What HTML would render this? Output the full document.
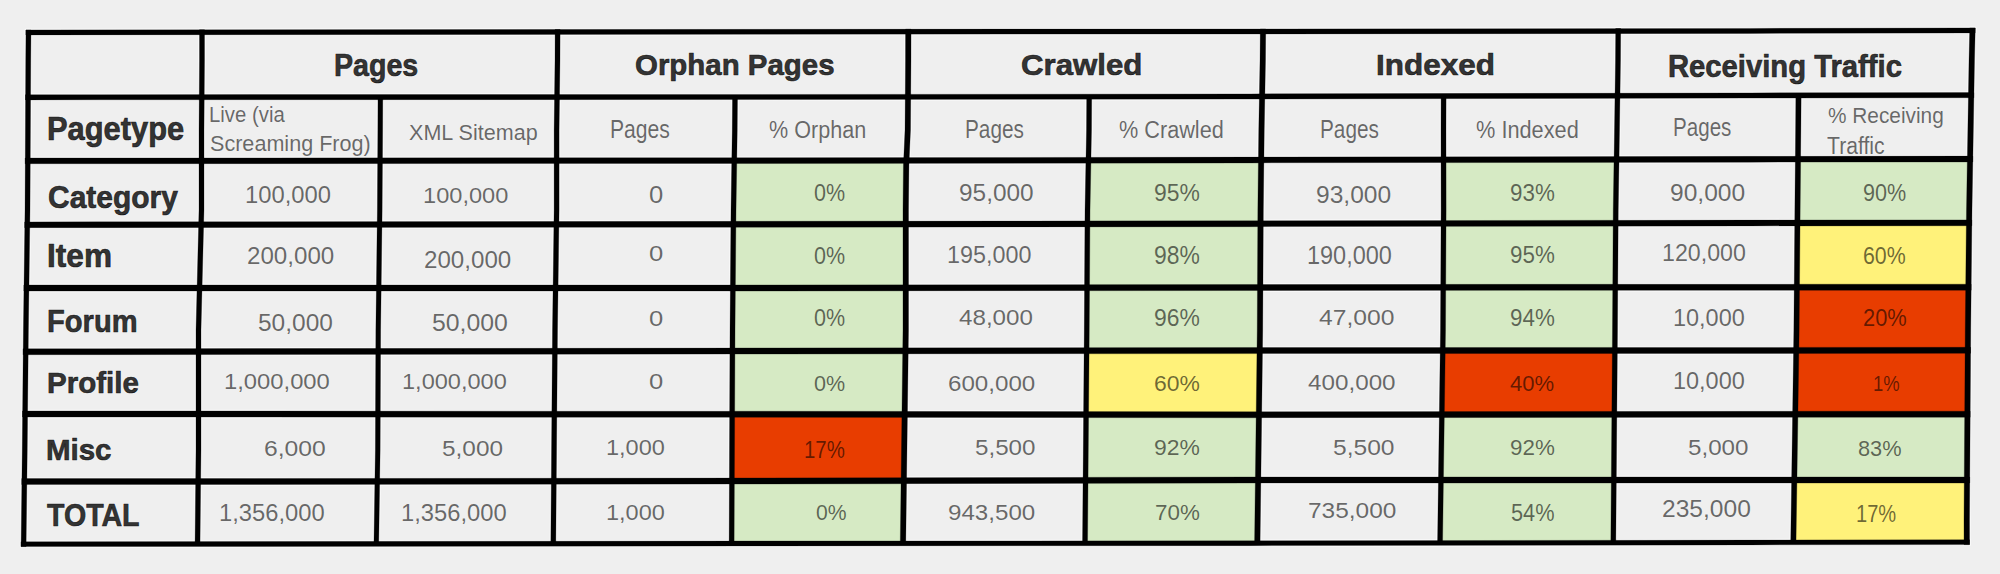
<!DOCTYPE html>
<html><head><meta charset="utf-8"><style>
html,body{margin:0;padding:0;background:#efefef;width:2000px;height:574px;overflow:hidden}
svg{position:absolute;left:0;top:0}
.t{position:absolute;font-family:"Liberation Sans",sans-serif;white-space:pre;transform-origin:0 0}
</style></head><body>
<svg width="2000" height="574" viewBox="0 0 2000 574">
<g fill="none" stroke="#fff" stroke-opacity="0.8" stroke-width="2.4" stroke-linejoin="round">
<polygon points="25.88,29.97 40.00,29.90 750.00,29.25 1250.00,29.00 1750.00,28.40 1975.14,27.91 1975.14,32.91 1750.00,33.40 1250.00,34.00 750.00,34.25 40.00,34.90 25.88,34.97"/>
<polygon points="25.46,94.70 100.00,94.65 750.00,94.40 1250.00,93.90 1750.00,92.90 1973.86,92.61 1973.86,97.81 1750.00,98.10 1250.00,99.10 750.00,99.60 100.00,99.85 25.46,99.90"/>
<polygon points="25.15,158.00 100.00,158.00 750.00,157.70 1250.00,157.10 1750.00,156.35 1972.80,156.11 1972.80,161.91 1750.00,162.15 1250.00,162.90 750.00,163.50 100.00,163.80 25.15,163.80"/>
<polygon points="24.70,221.90 100.00,221.85 750.00,221.35 1250.00,220.85 1750.00,220.10 1971.82,219.91 1971.82,225.71 1750.00,225.90 1250.00,226.65 750.00,227.15 100.00,227.65 24.70,227.70"/>
<polygon points="23.86,285.00 100.00,285.00 750.00,285.00 1250.00,284.50 1750.00,284.25 1971.15,284.20 1971.15,290.20 1750.00,290.25 1250.00,290.50 750.00,291.00 100.00,291.00 23.86,291.00"/>
<polygon points="23.09,348.80 100.00,348.75 750.00,348.00 1250.00,347.60 1750.00,347.40 1970.57,347.30 1970.57,353.30 1750.00,353.40 1250.00,353.60 750.00,354.00 100.00,354.75 23.09,354.80"/>
<polygon points="22.49,411.00 100.00,411.00 750.00,411.25 1250.00,411.75 1750.00,411.25 1970.15,411.20 1970.15,417.20 1750.00,417.25 1250.00,417.75 750.00,417.25 100.00,417.00 22.49,417.00"/>
<polygon points="21.77,478.60 100.00,478.60 750.00,478.00 1250.00,477.00 1750.00,477.00 1969.71,477.00 1969.71,483.00 1750.00,483.00 1250.00,483.00 750.00,484.00 100.00,484.60 21.77,484.60"/>
<polygon points="21.02,541.80 40.00,541.80 750.00,541.10 1250.00,540.85 1750.00,540.10 1969.49,539.81 1969.49,544.61 1750.00,544.90 1250.00,545.65 750.00,545.90 40.00,546.60 21.02,546.60"/>
<polygon points="26.00,29.96 26.00,30.00 25.75,60.00 25.00,210.00 23.40,330.00 22.25,450.00 21.10,546.00 21.10,546.60 26.10,546.60 26.10,546.00 27.25,450.00 28.40,330.00 30.00,210.00 30.75,60.00 31.00,30.00 31.00,29.96"/>
<polygon points="199.50,29.75 199.50,30.00 199.50,60.00 199.00,130.00 199.00,210.00 196.00,330.00 196.00,450.00 195.02,544.04 200.02,544.04 201.00,450.00 201.00,330.00 204.00,210.00 204.00,130.00 204.50,60.00 204.50,30.00 204.50,29.75"/>
<polygon points="377.99,97.14 377.85,130.00 377.35,210.00 375.85,330.00 375.35,450.00 373.93,543.87 378.73,543.87 380.15,450.00 380.65,330.00 382.15,210.00 382.65,130.00 382.79,97.14"/>
<polygon points="555.10,29.43 555.10,30.00 555.00,60.00 554.10,130.00 554.10,210.00 552.50,330.00 550.82,543.69 555.82,543.69 557.50,330.00 559.10,210.00 559.10,130.00 560.00,60.00 560.10,30.00 560.10,29.43"/>
<polygon points="732.49,97.01 732.25,130.00 731.00,210.00 730.00,330.00 729.11,543.52 734.11,543.52 735.00,330.00 736.00,210.00 737.25,130.00 737.49,97.01"/>
<polygon points="905.55,29.17 905.55,30.00 905.50,60.00 905.00,130.00 903.45,165.00 903.00,210.00 903.00,330.00 900.28,543.42 905.78,543.42 908.50,330.00 908.50,210.00 908.95,165.00 910.50,130.00 911.00,60.00 911.05,30.00 911.05,29.17"/>
<polygon points="1086.69,96.66 1086.50,130.00 1085.00,210.00 1084.25,330.00 1082.52,543.33 1087.52,543.33 1089.25,330.00 1090.00,210.00 1091.50,130.00 1091.69,96.66"/>
<polygon points="1260.25,28.98 1260.25,30.00 1260.00,60.00 1258.75,130.00 1257.85,210.00 1257.25,330.00 1254.58,543.24 1260.08,543.24 1262.75,330.00 1263.35,210.00 1264.25,130.00 1265.50,60.00 1265.75,30.00 1265.75,28.98"/>
<polygon points="1441.10,96.11 1441.00,130.00 1441.10,210.00 1440.50,330.00 1437.54,542.96 1442.54,542.96 1445.50,330.00 1446.10,210.00 1446.00,130.00 1446.10,96.11"/>
<polygon points="1615.70,28.56 1615.70,30.00 1615.50,60.00 1614.50,130.00 1613.25,210.00 1612.50,330.00 1610.83,542.71 1615.83,542.71 1617.50,330.00 1618.25,210.00 1619.50,130.00 1620.50,60.00 1620.70,30.00 1620.70,28.56"/>
<polygon points="1795.85,95.44 1795.60,130.00 1794.85,210.00 1793.85,330.00 1790.70,542.44 1796.00,542.44 1799.15,330.00 1800.15,210.00 1800.90,130.00 1801.15,95.44"/>
<polygon points="1969.75,27.92 1969.75,28.00 1969.00,60.00 1966.50,210.00 1965.25,330.00 1964.00,520.00 1964.05,544.62 1969.55,544.62 1969.50,520.00 1970.75,330.00 1972.00,210.00 1974.50,60.00 1975.25,28.00 1975.25,27.92"/>
</g>
<polygon points="734.27,160.61 906.40,160.41 905.75,224.09 733.38,224.26" fill="#d6eac4"/>
<polygon points="1088.43,160.19 1261.16,159.98 1260.53,223.73 1087.41,223.91" fill="#d6eac4"/>
<polygon points="1443.54,159.71 1616.54,159.45 1615.67,223.20 1443.53,223.46" fill="#d6eac4"/>
<polygon points="1797.98,159.20 1970.10,159.01 1969.12,222.81 1797.39,222.96" fill="#d6eac4"/>
<polygon points="733.38,224.26 905.75,224.09 905.75,287.84 732.85,288.00" fill="#d6eac4"/>
<polygon points="1087.41,223.91 1260.53,223.73 1260.21,287.49 1087.01,287.66" fill="#d6eac4"/>
<polygon points="1443.53,223.46 1615.67,223.20 1615.27,287.32 1443.21,287.40" fill="#d6eac4"/>
<polygon points="1797.39,222.96 1969.12,222.81 1968.45,287.20 1796.86,287.24" fill="#fff27a"/>
<polygon points="732.85,288.00 905.75,287.84 905.48,350.88 732.41,351.02" fill="#d6eac4"/>
<polygon points="1087.01,287.66 1260.21,287.49 1259.74,350.60 1086.58,350.73" fill="#d6eac4"/>
<polygon points="1443.21,287.40 1615.27,287.32 1614.84,350.45 1442.71,350.52" fill="#d6eac4"/>
<polygon points="1796.86,287.24 1968.45,287.20 1967.87,350.31 1796.20,350.38" fill="#e83d00"/>
<polygon points="732.41,351.02 905.48,350.88 904.68,414.40 732.15,414.24" fill="#d6eac4"/>
<polygon points="1086.58,350.73 1259.74,350.60 1258.94,414.74 1086.06,414.59" fill="#fff27a"/>
<polygon points="1442.71,350.52 1614.84,350.45 1614.34,414.39 1441.83,414.56" fill="#e83d00"/>
<polygon points="1796.20,350.38 1967.87,350.31 1967.45,414.20 1795.25,414.24" fill="#e83d00"/>
<polygon points="732.15,414.24 904.68,414.40 903.83,480.69 731.87,481.02" fill="#e83d00"/>
<polygon points="1086.06,414.59 1258.94,414.74 1258.12,480.00 1085.53,480.33" fill="#d6eac4"/>
<polygon points="1441.83,414.56 1614.34,414.39 1613.82,480.00 1440.92,480.00" fill="#d6eac4"/>
<polygon points="1795.25,414.24 1967.45,414.20 1967.01,480.00 1794.28,480.00" fill="#d6eac4"/>
<polygon points="731.87,481.02 903.83,480.69 903.03,543.42 731.61,543.52" fill="#d6eac4"/>
<polygon points="1085.53,480.33 1258.12,480.00 1257.33,543.24 1085.02,543.33" fill="#d6eac4"/>
<polygon points="1440.92,480.00 1613.82,480.00 1613.33,542.71 1440.04,542.96" fill="#d6eac4"/>
<polygon points="1794.28,480.00 1967.01,480.00 1966.79,542.22 1793.35,542.44" fill="#fff27a"/>
<g fill="#000" stroke="#000" stroke-width="0.3" stroke-linejoin="round">
<polygon points="25.88,29.97 40.00,29.90 750.00,29.25 1250.00,29.00 1750.00,28.40 1975.14,27.91 1975.14,32.91 1750.00,33.40 1250.00,34.00 750.00,34.25 40.00,34.90 25.88,34.97"/>
<polygon points="25.46,94.70 100.00,94.65 750.00,94.40 1250.00,93.90 1750.00,92.90 1973.86,92.61 1973.86,97.81 1750.00,98.10 1250.00,99.10 750.00,99.60 100.00,99.85 25.46,99.90"/>
<polygon points="25.15,158.00 100.00,158.00 750.00,157.70 1250.00,157.10 1750.00,156.35 1972.80,156.11 1972.80,161.91 1750.00,162.15 1250.00,162.90 750.00,163.50 100.00,163.80 25.15,163.80"/>
<polygon points="24.70,221.90 100.00,221.85 750.00,221.35 1250.00,220.85 1750.00,220.10 1971.82,219.91 1971.82,225.71 1750.00,225.90 1250.00,226.65 750.00,227.15 100.00,227.65 24.70,227.70"/>
<polygon points="23.86,285.00 100.00,285.00 750.00,285.00 1250.00,284.50 1750.00,284.25 1971.15,284.20 1971.15,290.20 1750.00,290.25 1250.00,290.50 750.00,291.00 100.00,291.00 23.86,291.00"/>
<polygon points="23.09,348.80 100.00,348.75 750.00,348.00 1250.00,347.60 1750.00,347.40 1970.57,347.30 1970.57,353.30 1750.00,353.40 1250.00,353.60 750.00,354.00 100.00,354.75 23.09,354.80"/>
<polygon points="22.49,411.00 100.00,411.00 750.00,411.25 1250.00,411.75 1750.00,411.25 1970.15,411.20 1970.15,417.20 1750.00,417.25 1250.00,417.75 750.00,417.25 100.00,417.00 22.49,417.00"/>
<polygon points="21.77,478.60 100.00,478.60 750.00,478.00 1250.00,477.00 1750.00,477.00 1969.71,477.00 1969.71,483.00 1750.00,483.00 1250.00,483.00 750.00,484.00 100.00,484.60 21.77,484.60"/>
<polygon points="21.02,541.80 40.00,541.80 750.00,541.10 1250.00,540.85 1750.00,540.10 1969.49,539.81 1969.49,544.61 1750.00,544.90 1250.00,545.65 750.00,545.90 40.00,546.60 21.02,546.60"/>
<polygon points="26.00,29.96 26.00,30.00 25.75,60.00 25.00,210.00 23.40,330.00 22.25,450.00 21.10,546.00 21.10,546.60 26.10,546.60 26.10,546.00 27.25,450.00 28.40,330.00 30.00,210.00 30.75,60.00 31.00,30.00 31.00,29.96"/>
<polygon points="199.50,29.75 199.50,30.00 199.50,60.00 199.00,130.00 199.00,210.00 196.00,330.00 196.00,450.00 195.02,544.04 200.02,544.04 201.00,450.00 201.00,330.00 204.00,210.00 204.00,130.00 204.50,60.00 204.50,30.00 204.50,29.75"/>
<polygon points="377.99,97.14 377.85,130.00 377.35,210.00 375.85,330.00 375.35,450.00 373.93,543.87 378.73,543.87 380.15,450.00 380.65,330.00 382.15,210.00 382.65,130.00 382.79,97.14"/>
<polygon points="555.10,29.43 555.10,30.00 555.00,60.00 554.10,130.00 554.10,210.00 552.50,330.00 550.82,543.69 555.82,543.69 557.50,330.00 559.10,210.00 559.10,130.00 560.00,60.00 560.10,30.00 560.10,29.43"/>
<polygon points="732.49,97.01 732.25,130.00 731.00,210.00 730.00,330.00 729.11,543.52 734.11,543.52 735.00,330.00 736.00,210.00 737.25,130.00 737.49,97.01"/>
<polygon points="905.55,29.17 905.55,30.00 905.50,60.00 905.00,130.00 903.45,165.00 903.00,210.00 903.00,330.00 900.28,543.42 905.78,543.42 908.50,330.00 908.50,210.00 908.95,165.00 910.50,130.00 911.00,60.00 911.05,30.00 911.05,29.17"/>
<polygon points="1086.69,96.66 1086.50,130.00 1085.00,210.00 1084.25,330.00 1082.52,543.33 1087.52,543.33 1089.25,330.00 1090.00,210.00 1091.50,130.00 1091.69,96.66"/>
<polygon points="1260.25,28.98 1260.25,30.00 1260.00,60.00 1258.75,130.00 1257.85,210.00 1257.25,330.00 1254.58,543.24 1260.08,543.24 1262.75,330.00 1263.35,210.00 1264.25,130.00 1265.50,60.00 1265.75,30.00 1265.75,28.98"/>
<polygon points="1441.10,96.11 1441.00,130.00 1441.10,210.00 1440.50,330.00 1437.54,542.96 1442.54,542.96 1445.50,330.00 1446.10,210.00 1446.00,130.00 1446.10,96.11"/>
<polygon points="1615.70,28.56 1615.70,30.00 1615.50,60.00 1614.50,130.00 1613.25,210.00 1612.50,330.00 1610.83,542.71 1615.83,542.71 1617.50,330.00 1618.25,210.00 1619.50,130.00 1620.50,60.00 1620.70,30.00 1620.70,28.56"/>
<polygon points="1795.85,95.44 1795.60,130.00 1794.85,210.00 1793.85,330.00 1790.70,542.44 1796.00,542.44 1799.15,330.00 1800.15,210.00 1800.90,130.00 1801.15,95.44"/>
<polygon points="1969.75,27.92 1969.75,28.00 1969.00,60.00 1966.50,210.00 1965.25,330.00 1964.00,520.00 1964.05,544.62 1969.55,544.62 1969.50,520.00 1970.75,330.00 1972.00,210.00 1974.50,60.00 1975.25,28.00 1975.25,27.92"/>
</g>
</svg>
<div class="t" style="left:334.00px;top:49.74px;font-size:31.59px;line-height:31.59px;font-weight:700;color:rgba(0,0,0,0.79);transform:scaleX(0.9059);-webkit-text-stroke:0.7px rgba(0,0,0,0.79);">Pages</div>
<div class="t" style="left:634.78px;top:49.47px;font-size:30.41px;line-height:30.41px;font-weight:700;color:rgba(0,0,0,0.79);transform:scaleX(0.9678);-webkit-text-stroke:0.7px rgba(0,0,0,0.79);">Orphan Pages</div>
<div class="t" style="left:1020.65px;top:49.47px;font-size:30.41px;line-height:30.41px;font-weight:700;color:rgba(0,0,0,0.79);transform:scaleX(1.0265);-webkit-text-stroke:0.7px rgba(0,0,0,0.79);">Crawled</div>
<div class="t" style="left:1375.80px;top:49.47px;font-size:30.41px;line-height:30.41px;font-weight:700;color:rgba(0,0,0,0.79);transform:scaleX(1.0353);-webkit-text-stroke:0.7px rgba(0,0,0,0.79);">Indexed</div>
<div class="t" style="left:1667.95px;top:51.82px;font-size:30.68px;line-height:30.68px;font-weight:700;color:rgba(0,0,0,0.79);transform:scaleX(0.9529);-webkit-text-stroke:0.7px rgba(0,0,0,0.79);">Receiving Traffic</div>
<div class="t" style="left:46.74px;top:113.48px;font-size:32.61px;line-height:32.61px;font-weight:700;color:rgba(0,0,0,0.79);transform:scaleX(0.9461);-webkit-text-stroke:0.7px rgba(0,0,0,0.79);">Pagetype</div>
<div class="t" style="left:47.66px;top:183.37px;font-size:30.86px;line-height:30.86px;font-weight:700;color:rgba(0,0,0,0.79);transform:scaleX(0.9707);-webkit-text-stroke:0.7px rgba(0,0,0,0.79);">Category</div>
<div class="t" style="left:46.75px;top:239.61px;font-size:32.46px;line-height:32.46px;font-weight:700;color:rgba(0,0,0,0.79);transform:scaleX(0.9738);-webkit-text-stroke:0.7px rgba(0,0,0,0.79);">Item</div>
<div class="t" style="left:46.92px;top:305.58px;font-size:31.88px;line-height:31.88px;font-weight:700;color:rgba(0,0,0,0.79);transform:scaleX(0.9135);-webkit-text-stroke:0.7px rgba(0,0,0,0.79);">Forum</div>
<div class="t" style="left:46.89px;top:368.36px;font-size:30.00px;line-height:30.00px;font-weight:700;color:rgba(0,0,0,0.79);transform:scaleX(0.9845);-webkit-text-stroke:0.7px rgba(0,0,0,0.79);">Profile</div>
<div class="t" style="left:46.02px;top:435.32px;font-size:30.14px;line-height:30.14px;font-weight:700;color:rgba(0,0,0,0.79);transform:scaleX(0.9782);-webkit-text-stroke:0.7px rgba(0,0,0,0.79);">Misc</div>
<div class="t" style="left:46.71px;top:500.09px;font-size:31.43px;line-height:31.43px;font-weight:700;color:rgba(0,0,0,0.79);transform:scaleX(0.9088);-webkit-text-stroke:0.7px rgba(0,0,0,0.79);">TOTAL</div>
<div class="t" style="left:209.37px;top:104.09px;font-size:22.60px;line-height:22.60px;font-weight:400;color:rgba(0,0,0,0.58);transform:scaleX(0.9000);">Live (via</div>
<div class="t" style="left:209.92px;top:133.17px;font-size:21.92px;line-height:21.92px;font-weight:400;color:rgba(0,0,0,0.58);transform:scaleX(0.9852);">Screaming Frog)</div>
<div class="t" style="left:409.35px;top:121.76px;font-size:21.58px;line-height:21.58px;font-weight:400;color:rgba(0,0,0,0.58);transform:scaleX(0.9994);">XML Sitemap</div>
<div class="t" style="left:610.41px;top:116.74px;font-size:25.36px;line-height:25.36px;font-weight:400;color:rgba(0,0,0,0.58);transform:scaleX(0.8335);">Pages</div>
<div class="t" style="left:769.14px;top:117.92px;font-size:23.97px;line-height:23.97px;font-weight:400;color:rgba(0,0,0,0.58);transform:scaleX(0.9006);">% Orphan</div>
<div class="t" style="left:965.44px;top:116.74px;font-size:25.36px;line-height:25.36px;font-weight:400;color:rgba(0,0,0,0.58);transform:scaleX(0.8190);">Pages</div>
<div class="t" style="left:1119.13px;top:117.92px;font-size:23.97px;line-height:23.97px;font-weight:400;color:rgba(0,0,0,0.58);transform:scaleX(0.9040);">% Crawled</div>
<div class="t" style="left:1320.44px;top:116.74px;font-size:25.36px;line-height:25.36px;font-weight:400;color:rgba(0,0,0,0.58);transform:scaleX(0.8190);">Pages</div>
<div class="t" style="left:1476.23px;top:117.92px;font-size:23.97px;line-height:23.97px;font-weight:400;color:rgba(0,0,0,0.58);transform:scaleX(0.9074);">% Indexed</div>
<div class="t" style="left:1673.35px;top:115.35px;font-size:25.00px;line-height:25.00px;font-weight:400;color:rgba(0,0,0,0.58);transform:scaleX(0.8235);">Pages</div>
<div class="t" style="left:1828.17px;top:105.19px;font-size:22.60px;line-height:22.60px;font-weight:400;color:rgba(0,0,0,0.58);transform:scaleX(0.9214);">% Receiving</div>
<div class="t" style="left:1827.48px;top:133.74px;font-size:24.66px;line-height:24.66px;font-weight:400;color:rgba(0,0,0,0.58);transform:scaleX(0.8582);">Traffic</div>
<div class="t" style="left:245.20px;top:183.16px;font-size:24.29px;line-height:24.29px;font-weight:400;color:rgba(0,0,0,0.58);transform:scaleX(0.9793);">100,000</div>
<div class="t" style="left:423.11px;top:184.58px;font-size:22.14px;line-height:22.14px;font-weight:400;color:rgba(0,0,0,0.58);transform:scaleX(1.0676);">100,000</div>
<div class="t" style="left:649.34px;top:184.06px;font-size:23.57px;line-height:23.57px;font-weight:400;color:rgba(0,0,0,0.58);transform:scaleX(1.0871);">0</div>
<div class="t" style="left:814.14px;top:182.16px;font-size:23.57px;line-height:23.57px;font-weight:400;color:rgba(0,0,0,0.58);transform:scaleX(0.9135);">0%</div>
<div class="t" style="left:958.78px;top:182.16px;font-size:23.57px;line-height:23.57px;font-weight:400;color:rgba(0,0,0,0.58);transform:scaleX(1.0356);">95,000</div>
<div class="t" style="left:1153.85px;top:182.16px;font-size:23.57px;line-height:23.57px;font-weight:400;color:rgba(0,0,0,0.58);transform:scaleX(0.9722);">95%</div>
<div class="t" style="left:1315.77px;top:184.06px;font-size:23.57px;line-height:23.57px;font-weight:400;color:rgba(0,0,0,0.58);transform:scaleX(1.0428);">93,000</div>
<div class="t" style="left:1509.88px;top:182.16px;font-size:23.57px;line-height:23.57px;font-weight:400;color:rgba(0,0,0,0.58);transform:scaleX(0.9501);">93%</div>
<div class="t" style="left:1669.77px;top:182.16px;font-size:23.57px;line-height:23.57px;font-weight:400;color:rgba(0,0,0,0.58);transform:scaleX(1.0428);">90,000</div>
<div class="t" style="left:1862.92px;top:182.16px;font-size:23.57px;line-height:23.57px;font-weight:400;color:rgba(0,0,0,0.58);transform:scaleX(0.9170);">90%</div>
<div class="t" style="left:246.69px;top:244.21px;font-size:23.93px;line-height:23.93px;font-weight:400;color:rgba(0,0,0,0.58);transform:scaleX(1.0092);">200,000</div>
<div class="t" style="left:423.79px;top:249.06px;font-size:23.57px;line-height:23.57px;font-weight:400;color:rgba(0,0,0,0.58);transform:scaleX(1.0244);">200,000</div>
<div class="t" style="left:649.34px;top:242.62px;font-size:22.50px;line-height:22.50px;font-weight:400;color:rgba(0,0,0,0.58);transform:scaleX(1.1389);">0</div>
<div class="t" style="left:814.14px;top:244.21px;font-size:23.93px;line-height:23.93px;font-weight:400;color:rgba(0,0,0,0.58);transform:scaleX(0.8999);">0%</div>
<div class="t" style="left:947.13px;top:244.06px;font-size:23.57px;line-height:23.57px;font-weight:400;color:rgba(0,0,0,0.58);transform:scaleX(0.9907);">195,000</div>
<div class="t" style="left:1153.85px;top:242.94px;font-size:25.71px;line-height:25.71px;font-weight:400;color:rgba(0,0,0,0.58);transform:scaleX(0.8912);">98%</div>
<div class="t" style="left:1307.12px;top:242.94px;font-size:25.71px;line-height:25.71px;font-weight:400;color:rgba(0,0,0,0.58);transform:scaleX(0.9137);">190,000</div>
<div class="t" style="left:1509.88px;top:243.16px;font-size:24.29px;line-height:24.29px;font-weight:400;color:rgba(0,0,0,0.58);transform:scaleX(0.9222);">95%</div>
<div class="t" style="left:1662.14px;top:242.16px;font-size:23.57px;line-height:23.57px;font-weight:400;color:rgba(0,0,0,0.58);transform:scaleX(0.9846);">120,000</div>
<div class="t" style="left:1862.93px;top:244.16px;font-size:24.29px;line-height:24.29px;font-weight:400;color:rgba(0,0,0,0.58);transform:scaleX(0.8793);">60%</div>
<div class="t" style="left:258.02px;top:312.06px;font-size:23.57px;line-height:23.57px;font-weight:400;color:rgba(0,0,0,0.58);transform:scaleX(1.0393);">50,000</div>
<div class="t" style="left:432.01px;top:312.06px;font-size:23.57px;line-height:23.57px;font-weight:400;color:rgba(0,0,0,0.58);transform:scaleX(1.0535);">50,000</div>
<div class="t" style="left:649.34px;top:308.59px;font-size:21.43px;line-height:21.43px;font-weight:400;color:rgba(0,0,0,0.58);transform:scaleX(1.1958);">0</div>
<div class="t" style="left:814.14px;top:307.06px;font-size:23.57px;line-height:23.57px;font-weight:400;color:rgba(0,0,0,0.58);transform:scaleX(0.9135);">0%</div>
<div class="t" style="left:958.72px;top:305.77px;font-size:22.86px;line-height:22.86px;font-weight:400;color:rgba(0,0,0,0.58);transform:scaleX(1.0573);">48,000</div>
<div class="t" style="left:1153.85px;top:306.16px;font-size:24.29px;line-height:24.29px;font-weight:400;color:rgba(0,0,0,0.58);transform:scaleX(0.9436);">96%</div>
<div class="t" style="left:1318.71px;top:305.77px;font-size:22.86px;line-height:22.86px;font-weight:400;color:rgba(0,0,0,0.58);transform:scaleX(1.0792);">47,000</div>
<div class="t" style="left:1509.88px;top:307.06px;font-size:23.57px;line-height:23.57px;font-weight:400;color:rgba(0,0,0,0.58);transform:scaleX(0.9501);">94%</div>
<div class="t" style="left:1673.12px;top:307.16px;font-size:23.57px;line-height:23.57px;font-weight:400;color:rgba(0,0,0,0.58);transform:scaleX(0.9957);">10,000</div>
<div class="t" style="left:1862.91px;top:307.16px;font-size:23.57px;line-height:23.57px;font-weight:400;color:rgba(0,0,0,0.58);transform:scaleX(0.9280);">20%</div>
<div class="t" style="left:224.10px;top:369.77px;font-size:22.86px;line-height:22.86px;font-weight:400;color:rgba(0,0,0,0.58);transform:scaleX(1.0407);">1,000,000</div>
<div class="t" style="left:402.12px;top:369.77px;font-size:22.86px;line-height:22.86px;font-weight:400;color:rgba(0,0,0,0.58);transform:scaleX(1.0306);">1,000,000</div>
<div class="t" style="left:649.34px;top:371.59px;font-size:21.43px;line-height:21.43px;font-weight:400;color:rgba(0,0,0,0.58);transform:scaleX(1.1958);">0</div>
<div class="t" style="left:814.14px;top:371.77px;font-size:22.86px;line-height:22.86px;font-weight:400;color:rgba(0,0,0,0.58);transform:scaleX(0.9421);">0%</div>
<div class="t" style="left:947.79px;top:371.77px;font-size:22.86px;line-height:22.86px;font-weight:400;color:rgba(0,0,0,0.58);transform:scaleX(1.0565);">600,000</div>
<div class="t" style="left:1153.85px;top:371.77px;font-size:22.86px;line-height:22.86px;font-weight:400;color:rgba(0,0,0,0.58);transform:scaleX(1.0026);">60%</div>
<div class="t" style="left:1307.72px;top:370.77px;font-size:22.86px;line-height:22.86px;font-weight:400;color:rgba(0,0,0,0.58);transform:scaleX(1.0599);">400,000</div>
<div class="t" style="left:1509.76px;top:373.59px;font-size:21.43px;line-height:21.43px;font-weight:400;color:rgba(0,0,0,0.58);transform:scaleX(1.0291);">40%</div>
<div class="t" style="left:1673.12px;top:369.16px;font-size:24.29px;line-height:24.29px;font-weight:400;color:rgba(0,0,0,0.58);transform:scaleX(0.9664);">10,000</div>
<div class="t" style="left:1872.73px;top:372.52px;font-size:21.74px;line-height:21.74px;font-weight:400;color:rgba(0,0,0,0.58);transform:scaleX(0.8474);">1%</div>
<div class="t" style="left:263.67px;top:436.77px;font-size:22.86px;line-height:22.86px;font-weight:400;color:rgba(0,0,0,0.58);transform:scaleX(1.0801);">6,000</div>
<div class="t" style="left:442.02px;top:438.59px;font-size:21.43px;line-height:21.43px;font-weight:400;color:rgba(0,0,0,0.58);transform:scaleX(1.1377);">5,000</div>
<div class="t" style="left:606.12px;top:435.77px;font-size:22.86px;line-height:22.86px;font-weight:400;color:rgba(0,0,0,0.58);transform:scaleX(1.0294);">1,000</div>
<div class="t" style="left:804.37px;top:438.89px;font-size:23.19px;line-height:23.19px;font-weight:400;color:rgba(0,0,0,0.58);transform:scaleX(0.8785);">17%</div>
<div class="t" style="left:975.03px;top:435.77px;font-size:22.86px;line-height:22.86px;font-weight:400;color:rgba(0,0,0,0.58);transform:scaleX(1.0576);">5,500</div>
<div class="t" style="left:1153.85px;top:435.77px;font-size:22.86px;line-height:22.86px;font-weight:400;color:rgba(0,0,0,0.58);transform:scaleX(1.0026);">92%</div>
<div class="t" style="left:1333.12px;top:435.77px;font-size:22.86px;line-height:22.86px;font-weight:400;color:rgba(0,0,0,0.58);transform:scaleX(1.0757);">5,500</div>
<div class="t" style="left:1509.88px;top:435.77px;font-size:22.86px;line-height:22.86px;font-weight:400;color:rgba(0,0,0,0.58);transform:scaleX(0.9798);">92%</div>
<div class="t" style="left:1688.03px;top:435.77px;font-size:22.86px;line-height:22.86px;font-weight:400;color:rgba(0,0,0,0.58);transform:scaleX(1.0576);">5,000</div>
<div class="t" style="left:1858.13px;top:436.77px;font-size:22.86px;line-height:22.86px;font-weight:400;color:rgba(0,0,0,0.58);transform:scaleX(0.9521);">83%</div>
<div class="t" style="left:219.10px;top:502.06px;font-size:23.57px;line-height:23.57px;font-weight:400;color:rgba(0,0,0,0.58);transform:scaleX(1.0092);">1,356,000</div>
<div class="t" style="left:401.10px;top:502.06px;font-size:23.57px;line-height:23.57px;font-weight:400;color:rgba(0,0,0,0.58);transform:scaleX(1.0092);">1,356,000</div>
<div class="t" style="left:606.12px;top:501.68px;font-size:22.14px;line-height:22.14px;font-weight:400;color:rgba(0,0,0,0.58);transform:scaleX(1.0626);">1,000</div>
<div class="t" style="left:816.15px;top:501.68px;font-size:22.14px;line-height:22.14px;font-weight:400;color:rgba(0,0,0,0.58);transform:scaleX(0.9560);">0%</div>
<div class="t" style="left:947.79px;top:502.59px;font-size:21.43px;line-height:21.43px;font-weight:400;color:rgba(0,0,0,0.58);transform:scaleX(1.1269);">943,500</div>
<div class="t" style="left:1154.88px;top:501.68px;font-size:22.14px;line-height:22.14px;font-weight:400;color:rgba(0,0,0,0.58);transform:scaleX(1.0114);">70%</div>
<div class="t" style="left:1307.78px;top:498.77px;font-size:22.86px;line-height:22.86px;font-weight:400;color:rgba(0,0,0,0.58);transform:scaleX(1.0689);">735,000</div>
<div class="t" style="left:1511.13px;top:500.97px;font-size:23.91px;line-height:23.91px;font-weight:400;color:rgba(0,0,0,0.58);transform:scaleX(0.9100);">54%</div>
<div class="t" style="left:1661.67px;top:498.16px;font-size:23.57px;line-height:23.57px;font-weight:400;color:rgba(0,0,0,0.58);transform:scaleX(1.0425);">235,000</div>
<div class="t" style="left:1856.39px;top:502.89px;font-size:23.19px;line-height:23.19px;font-weight:400;color:rgba(0,0,0,0.58);transform:scaleX(0.8671);">17%</div>
</body></html>
